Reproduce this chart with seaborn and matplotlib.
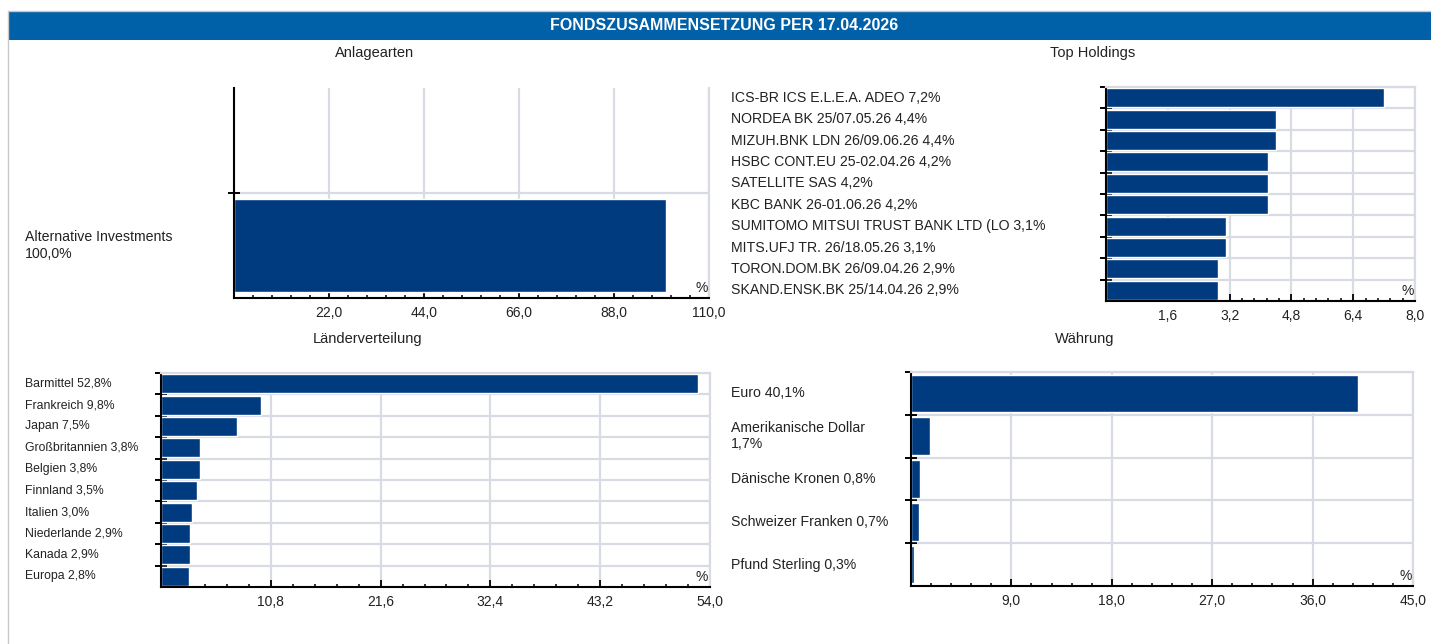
import numpy as np
import pandas as pd
import matplotlib
matplotlib.use("Agg")
import matplotlib.pyplot as plt
import matplotlib.transforms as mtransforms
from matplotlib.ticker import MultipleLocator, AutoMinorLocator, FuncFormatter
from matplotlib.patches import Rectangle
from matplotlib.lines import Line2D
import seaborn as sns

sns.set_theme(style="white")
plt.rcParams["font.family"] = ["Liberation Sans", "DejaVu Sans"]

NAVY = "#003B80"   # bars
HEAD = "#0060A8"   # header band
GRID = "#D8DBE3"
TXT = "#222222"

W, H = 1431, 644

# %%
# Daten
anlage_labels = ["Alternative Investments\n100,0%"]
anlage_values = [100.0]

holding_labels = [
    "ICS-BR ICS E.L.E.A. ADEO 7,2%",
    "NORDEA BK 25/07.05.26 4,4%",
    "MIZUH.BNK LDN 26/09.06.26 4,4%",
    "HSBC CONT.EU 25-02.04.26 4,2%",
    "SATELLITE SAS 4,2%",
    "KBC BANK 26-01.06.26 4,2%",
    "SUMITOMO MITSUI TRUST BANK LTD (LO 3,1%",
    "MITS.UFJ TR. 26/18.05.26 3,1%",
    "TORON.DOM.BK 26/09.04.26 2,9%",
    "SKAND.ENSK.BK 25/14.04.26 2,9%",
]
holding_values = [7.2, 4.4, 4.4, 4.2, 4.2, 4.2, 3.1, 3.1, 2.9, 2.9]

laender_labels = [
    "Barmittel 52,8%", "Frankreich 9,8%", "Japan 7,5%", "Großbritannien 3,8%",
    "Belgien 3,8%", "Finnland 3,5%", "Italien 3,0%", "Niederlande 2,9%",
    "Kanada 2,9%", "Europa 2,8%",
]
laender_values = [52.8, 9.8, 7.5, 3.8, 3.8, 3.5, 3.0, 2.9, 2.9, 2.8]

waehrung_labels = [
    "Euro 40,1%", "Amerikanische Dollar\n1,7%", "Dänische Kronen 0,8%",
    "Schweizer Franken 0,7%", "Pfund Sterling 0,3%",
]
waehrung_values = [40.1, 1.7, 0.8, 0.7, 0.3]


def px_box(left, top, right, bottom):
    return [left / W, 1 - bottom / H, (right - left) / W, (bottom - top) / H]


def de_fmt(v, pos):
    if abs(v) < 1e-9:
        return ""
    return f"{v:.1f}".replace(".", ",")


def draw_panel(ax, labels, values, xmax, step, label_x, fontsize, n_empty=0):
    df = pd.DataFrame({"label": labels, "value": values})
    sns.barplot(data=df, x="value", y="label", orient="h", color=NAVY,
                saturation=1, width=0.88, ax=ax)
    n = len(labels)
    ax.set_xlim(0, xmax)
    ax.set_ylim(n - 0.5, -0.5 - n_empty)
    ax.set_axisbelow(True)

    # Kategorie-Grenzen als Ticks + horizontale Gitterlinien
    bounds = np.arange(-0.5, n - 1, 1.0)
    ax.set_yticks(bounds)
    ax.set_yticklabels([])
    ax.yaxis.grid(True, color=GRID, linewidth=1.6)
    ax.tick_params(axis="y", which="major", direction="inout", length=9,
                   width=1.4, color="black", left=True)

    ax.xaxis.set_major_locator(MultipleLocator(step))
    ax.xaxis.set_minor_locator(AutoMinorLocator(5))
    ax.xaxis.set_major_formatter(FuncFormatter(de_fmt))
    ax.xaxis.grid(True, which="major", color=GRID, linewidth=1.6)
    ax.tick_params(axis="x", which="major", direction="in", length=5,
                   width=1.3, color="black", labelsize=10, labelcolor=TXT,
                   pad=6, bottom=True)
    ax.tick_params(axis="x", which="minor", direction="in", length=2.5,
                   width=1.1, color="black", bottom=True)

    ax.set_xlabel("")
    ax.set_ylabel("")
    for s in ["left", "bottom"]:
        ax.spines[s].set_color("black")
        ax.spines[s].set_linewidth(1.5)
    for s in ["top", "right"]:
        ax.spines[s].set_color(GRID)
        ax.spines[s].set_linewidth(1.6)
    if n_empty:
        ax.spines["top"].set_visible(False)

    ax.text(0.997, 0.012, "%", transform=ax.transAxes, ha="right",
            va="bottom", fontsize=10, color=TXT)

    trans = mtransforms.blended_transform_factory(fig.transFigure, ax.transData)
    for i, lab in enumerate(labels):
        ax.text(label_x / W, i, lab, transform=trans, ha="left", va="center",
                fontsize=fontsize, color=TXT, linespacing=1.2)


fig = plt.figure(figsize=(W / 100, H / 100), dpi=100)

# Rahmen + Kopfzeile
fig.add_artist(Line2D([7.5 / W, 7.5 / W], [0, 1 - 11 / H], color="#C8C8C8",
                      linewidth=1, transform=fig.transFigure))
fig.add_artist(Line2D([7.5 / W, 1], [1 - 11 / H, 1 - 11 / H], color="#C8C8C8",
                      linewidth=1, transform=fig.transFigure))
fig.add_artist(Rectangle((8 / W, 1 - 40 / H), (W - 8) / W, 28 / H,
                         facecolor=HEAD, edgecolor="none",
                         transform=fig.transFigure))
fig.text(724 / W, 1 - 26 / H, "FONDSZUSAMMENSETZUNG PER 17.04.2026",
         ha="center", va="center", color="white", fontsize=11.5,
         fontweight="bold")

fig.text(375 / W, 1 - 53 / H, "Anlagearten", ha="center", va="center",
         fontsize=10.5, color=TXT)
fig.text(1093 / W, 1 - 53 / H, "Top Holdings", ha="center", va="center",
         fontsize=10.5, color=TXT)
fig.text(368 / W, 1 - 339 / H, "Länderverteilung", ha="center", va="center",
         fontsize=10.5, color=TXT)
fig.text(1085 / W, 1 - 339 / H, "Währung", ha="center", va="center",
         fontsize=10.5, color=TXT)

ax1 = fig.add_axes(px_box(234, 88, 709, 298))
ax2 = fig.add_axes(px_box(1106, 87, 1415, 301))
ax3 = fig.add_axes(px_box(161, 373, 710, 587))
ax4 = fig.add_axes(px_box(911, 372, 1413, 586))

draw_panel(ax1, anlage_labels, anlage_values, 110, 22, 25, 10.2, n_empty=1)
draw_panel(ax2, holding_labels, holding_values, 8, 1.6, 731, 10.2)
draw_panel(ax3, laender_labels, laender_values, 54, 10.8, 25, 8.8)
draw_panel(ax4, waehrung_labels, waehrung_values, 45, 9, 731, 10.2)

fig.savefig("out.png", dpi=100)
